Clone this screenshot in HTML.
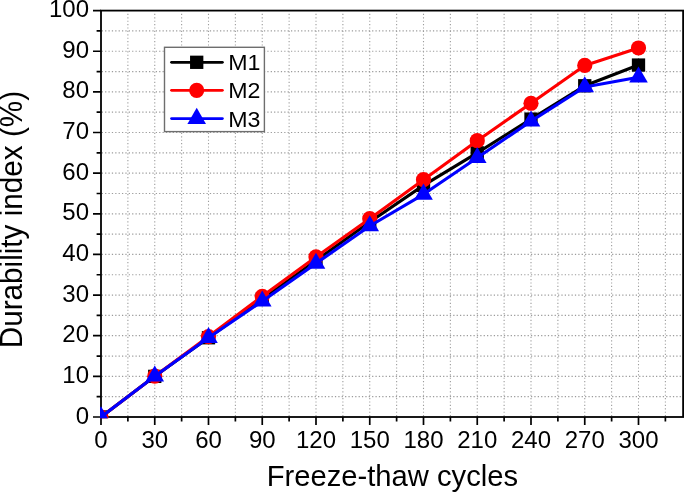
<!DOCTYPE html>
<html><head><meta charset="utf-8"><title>Durability index chart</title>
<style>html,body{margin:0;padding:0;background:#fff;width:685px;height:493px;overflow:hidden}svg{display:block}</style>
</head><body>
<svg width="685" height="493" viewBox="0 0 685 493">
<defs><clipPath id="pc"><rect x="100" y="9.5" width="584" height="408.8"/></clipPath></defs>
<path d="M127.88 416V11.6M154.75 416V11.6M181.62 416V11.6M208.5 416V11.6M235.38 416V11.6M262.25 416V11.6M289.12 416V11.6M316 416V11.6M342.88 416V11.6M369.75 416V11.6M396.62 416V11.6M423.5 416V11.6M450.38 416V11.6M477.25 416V11.6M504.12 416V11.6M531 416V11.6M557.88 416V11.6M584.75 416V11.6M611.62 416V11.6M638.5 416V11.6M665.38 416V11.6" stroke="#9c9c9c" stroke-width="1.1" stroke-dasharray="1.15 2.25" stroke-dashoffset="0.2" fill="none"/>
<path d="M102 396.68H682.1M102 376.36H682.1M102 356.04H682.1M102 335.72H682.1M102 315.4H682.1M102 295.08H682.1M102 274.76H682.1M102 254.44H682.1M102 234.12H682.1M102 213.8H682.1M102 193.48H682.1M102 173.16H682.1M102 152.84H682.1M102 132.52H682.1M102 112.2H682.1M102 91.88H682.1M102 71.56H682.1M102 51.24H682.1M102 30.92H682.1" stroke="#9c9c9c" stroke-width="1.2" stroke-dasharray="1.25 2.13" stroke-dashoffset="0.3" fill="none"/>
<rect x="101" y="10.6" width="582.1" height="406.4" stroke="#000" stroke-width="1.8" fill="none"/>
<path d="M101 417V425M127.88 417V421.6M154.75 417V425M181.62 417V421.6M208.5 417V425M235.38 417V421.6M262.25 417V425M289.12 417V421.6M316 417V425M342.88 417V421.6M369.75 417V425M396.62 417V421.6M423.5 417V425M450.38 417V421.6M477.25 417V425M504.12 417V421.6M531 417V425M557.88 417V421.6M584.75 417V425M611.62 417V421.6M638.5 417V425M665.38 417V421.6M101 417H93M101 396.68H96.6M101 376.36H93M101 356.04H96.6M101 335.72H93M101 315.4H96.6M101 295.08H93M101 274.76H96.6M101 254.44H93M101 234.12H96.6M101 213.8H93M101 193.48H96.6M101 173.16H93M101 152.84H96.6M101 132.52H93M101 112.2H96.6M101 91.88H93M101 71.56H96.6M101 51.24H93M101 30.92H96.6M101 10.6H93" stroke="#000" stroke-width="1.7" fill="none"/>
<g clip-path="url(#pc)">
<polyline points="101,417 154.75,376.36 208.5,337.75 262.25,299.14 316,260.54 369.75,221.93 423.5,185.35 477.25,152.84 531,119.11 584.75,85.78 638.5,65.06" fill="none" stroke="#000" stroke-width="3.1" stroke-linejoin="round" stroke-linecap="round"/>
<rect x="94.35" y="410.35" width="13.3" height="13.3" fill="#000"/>
<rect x="148.1" y="369.71" width="13.3" height="13.3" fill="#000"/>
<rect x="201.85" y="331.1" width="13.3" height="13.3" fill="#000"/>
<rect x="255.6" y="292.49" width="13.3" height="13.3" fill="#000"/>
<rect x="309.35" y="253.89" width="13.3" height="13.3" fill="#000"/>
<rect x="363.1" y="215.28" width="13.3" height="13.3" fill="#000"/>
<rect x="416.85" y="178.7" width="13.3" height="13.3" fill="#000"/>
<rect x="470.6" y="146.19" width="13.3" height="13.3" fill="#000"/>
<rect x="524.35" y="112.46" width="13.3" height="13.3" fill="#000"/>
<rect x="578.1" y="79.13" width="13.3" height="13.3" fill="#000"/>
<rect x="631.85" y="58.41" width="13.3" height="13.3" fill="#000"/>
<polyline points="101,417 154.75,376.16 208.5,336.53 262.25,296.3 316,256.88 369.75,218.68 423.5,179.66 477.25,140.65 531,103.26 584.75,65.46 638.5,47.99" fill="none" stroke="#ff0000" stroke-width="3.1" stroke-linejoin="round" stroke-linecap="round"/>
<circle cx="101" cy="417" r="7.6" fill="#ff0000"/>
<circle cx="154.75" cy="376.16" r="7.6" fill="#ff0000"/>
<circle cx="208.5" cy="336.53" r="7.6" fill="#ff0000"/>
<circle cx="262.25" cy="296.3" r="7.6" fill="#ff0000"/>
<circle cx="316" cy="256.88" r="7.6" fill="#ff0000"/>
<circle cx="369.75" cy="218.68" r="7.6" fill="#ff0000"/>
<circle cx="423.5" cy="179.66" r="7.6" fill="#ff0000"/>
<circle cx="477.25" cy="140.65" r="7.6" fill="#ff0000"/>
<circle cx="531" cy="103.26" r="7.6" fill="#ff0000"/>
<circle cx="584.75" cy="65.46" r="7.6" fill="#ff0000"/>
<circle cx="638.5" cy="47.99" r="7.6" fill="#ff0000"/>
<polyline points="101,417 154.75,376.16 208.5,337.75 262.25,301.18 316,263.38 369.75,225.99 423.5,194.29 477.25,157.72 531,121.14 584.75,87 638.5,77.25" fill="none" stroke="#0000ff" stroke-width="3.1" stroke-linejoin="round" stroke-linecap="round"/>
<path d="M101 406.26L110.3 422.37L91.7 422.37Z" fill="#0000ff"/>
<path d="M154.75 365.42L164.05 381.53L145.45 381.53Z" fill="#0000ff"/>
<path d="M208.5 327.01L217.8 343.12L199.2 343.12Z" fill="#0000ff"/>
<path d="M262.25 290.44L271.55 306.55L252.95 306.55Z" fill="#0000ff"/>
<path d="M316 252.64L325.3 268.75L306.7 268.75Z" fill="#0000ff"/>
<path d="M369.75 215.25L379.05 231.36L360.45 231.36Z" fill="#0000ff"/>
<path d="M423.5 183.55L432.8 199.66L414.2 199.66Z" fill="#0000ff"/>
<path d="M477.25 146.98L486.55 163.09L467.95 163.09Z" fill="#0000ff"/>
<path d="M531 110.4L540.3 126.51L521.7 126.51Z" fill="#0000ff"/>
<path d="M584.75 76.26L594.05 92.37L575.45 92.37Z" fill="#0000ff"/>
<path d="M638.5 66.51L647.8 82.62L629.2 82.62Z" fill="#0000ff"/>
</g>
<g font-family='"Liberation Sans", Arial, sans-serif' font-size="24" fill="#000">
<text x="101" y="447.6" text-anchor="middle">0</text>
<text x="154.75" y="447.6" text-anchor="middle">30</text>
<text x="208.5" y="447.6" text-anchor="middle">60</text>
<text x="262.25" y="447.6" text-anchor="middle">90</text>
<text x="316" y="447.6" text-anchor="middle">120</text>
<text x="369.75" y="447.6" text-anchor="middle">150</text>
<text x="423.5" y="447.6" text-anchor="middle">180</text>
<text x="477.25" y="447.6" text-anchor="middle">210</text>
<text x="531" y="447.6" text-anchor="middle">240</text>
<text x="584.75" y="447.6" text-anchor="middle">270</text>
<text x="638.5" y="447.6" text-anchor="middle">300</text>
<text x="89" y="423.5" text-anchor="end">0</text>
<text x="89" y="382.86" text-anchor="end">10</text>
<text x="89" y="342.22" text-anchor="end">20</text>
<text x="89" y="301.58" text-anchor="end">30</text>
<text x="89" y="260.94" text-anchor="end">40</text>
<text x="89" y="220.3" text-anchor="end">50</text>
<text x="89" y="179.66" text-anchor="end">60</text>
<text x="89" y="139.02" text-anchor="end">70</text>
<text x="89" y="98.38" text-anchor="end">80</text>
<text x="89" y="57.74" text-anchor="end">90</text>
<text x="89" y="17.1" text-anchor="end">100</text>
</g>
<text transform="translate(392.4 485.8) scale(1 1.04)" font-family='"Liberation Sans", Arial, sans-serif' font-size="29.2" text-anchor="middle">Freeze-thaw cycles</text>
<text transform="translate(22.2 219.6) rotate(-90) scale(1 1.03)" font-family='"Liberation Sans", Arial, sans-serif' font-size="29.7" text-anchor="middle">Durability index (%)</text>
<rect x="164.5" y="47.3" width="99.9" height="84.3" fill="#fff" stroke="#6e6e6e" stroke-width="1.4"/>
<path d="M171.5 62.3H222.4" stroke="#000" stroke-width="2.75" stroke-linecap="round"/>
<rect x="190.05" y="55.65" width="13.3" height="13.3" fill="#000"/>
<text transform="translate(228.3 69.7) scale(1 0.96)" font-family='"Liberation Sans", Arial, sans-serif' font-size="23.2">M1</text>
<path d="M171.5 90.3H222.4" stroke="#ff0000" stroke-width="2.75" stroke-linecap="round"/>
<circle cx="196.7" cy="90.3" r="7.6" fill="#ff0000"/>
<text transform="translate(228.3 98) scale(1 0.96)" font-family='"Liberation Sans", Arial, sans-serif' font-size="23.2">M2</text>
<path d="M171.5 118.6H222.4" stroke="#0000ff" stroke-width="2.75" stroke-linecap="round"/>
<path d="M196.7 107.86L206 123.97L187.4 123.97Z" fill="#0000ff"/>
<text transform="translate(228.3 126.5) scale(1 0.96)" font-family='"Liberation Sans", Arial, sans-serif' font-size="23.2">M3</text>
</svg>
</body></html>
